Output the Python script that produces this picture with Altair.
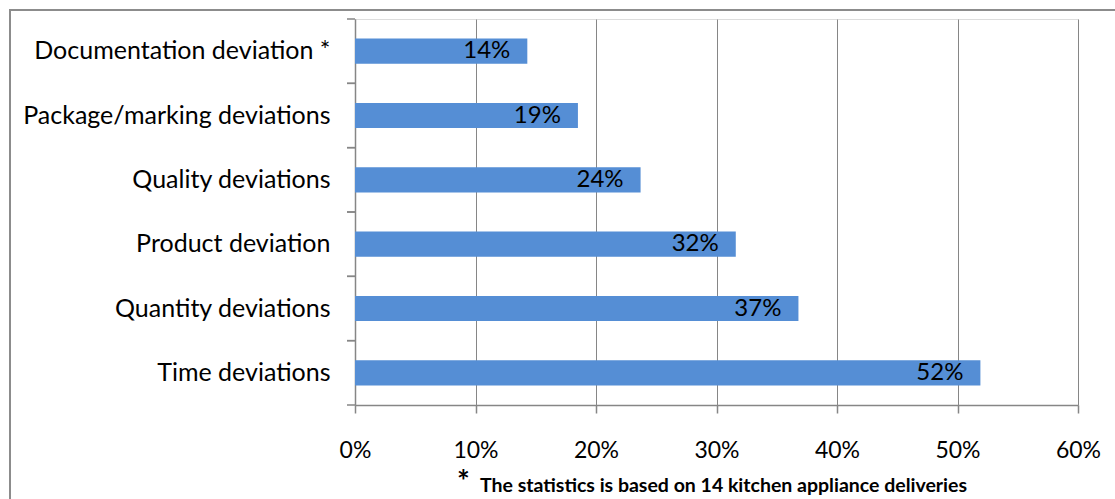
import altair as alt
import pandas as pd

categories = [
    "Documentation deviation *",
    "Package/marking deviations",
    "Quality deviations",
    "Product deviation",
    "Quantity deviations",
    "Time deviations",
]
values = [0.143, 0.185, 0.237, 0.316, 0.368, 0.519]
labels = ["14%", "19%", "24%", "32%", "37%", "52%"]
x_ticks = [0, 0.1, 0.2, 0.3, 0.4, 0.5, 0.6]
footnote_star = "*"
footnote_text = "The statistics is based on 14 kitchen appliance deliveries"

df = pd.DataFrame({"cat": categories, "value": values, "label": labels})

FONT = "Lato"
GRAY = "#868686"

xscale = alt.Scale(domain=[0, 0.6], nice=False)
yscale = alt.Scale(domain=categories, paddingInner=0.61, paddingOuter=0.305)

base = alt.Chart(df)

bars = base.mark_bar(color="#558ED5").encode(
    x=alt.X("value:Q", scale=xscale,
            axis=alt.Axis(values=x_ticks, format=".0%", title=None, grid=True,
                          gridColor=GRAY, gridWidth=1, gridOpacity=1,
                          domainColor=GRAY, domainWidth=1.5, tickColor=GRAY,
                          tickSize=8, tickWidth=1.5, labelFont=FONT, labelFontSize=23,
                          labelColor="black", labelPadding=26, labelFlush=False)),
    y=alt.Y("cat:N", scale=yscale, sort=categories,
            axis=alt.Axis(title=None, ticks=False, domainColor=GRAY, domainWidth=1.5,
                          labelFont=FONT, labelFontSize=25, labelColor="black",
                          labelPadding=25, labelLimit=400)),
)

texts = base.mark_text(align="right", baseline="middle", dx=-17, font=FONT,
                       fontSize=24, color="black").encode(
    x=alt.X("value:Q", scale=xscale),
    y=alt.Y("cat:N", scale=yscale, sort=categories),
    text="label:N",
)

tscale = alt.Scale(domain=categories, paddingInner=0, paddingOuter=0)
ticks_start = base.mark_rule(color=GRAY, strokeWidth=1.5).encode(
    y=alt.Y("cat:N", scale=tscale, sort=categories, bandPosition=0, axis=None),
    x=alt.value(-8), x2=alt.value(0),
)
ticks_end = base.mark_rule(color=GRAY, strokeWidth=1.5).encode(
    y=alt.Y("cat:N", scale=tscale, sort=categories, bandPosition=1, axis=None),
    x=alt.value(-8), x2=alt.value(0),
)

note_df = pd.DataFrame({"star": [footnote_star], "text": [footnote_text]})
star = alt.Chart(note_df).mark_text(align="left", baseline="alphabetic", font=FONT,
                                    fontSize=30, fontWeight="bold", color="black").encode(
    text="star:N", x=alt.value(102), y=alt.value(473))
note = alt.Chart(note_df).mark_text(align="left", baseline="alphabetic", font=FONT,
                                    fontSize=19.5, fontWeight="bold", color="black").encode(
    text="text:N", x=alt.value(125), y=alt.value(473))

border = alt.Chart(note_df).mark_rect(fill=None, stroke="#8c8c8c", strokeWidth=2).encode(
    x=alt.value(-345), x2=alt.value(800), y=alt.value(-9), y2=alt.value(520))

main = alt.layer(bars, texts)
rules = alt.layer(ticks_start, ticks_end)

chart = alt.layer(border, main, rules, star, note).resolve_scale(y="independent").properties(
    width=723, height=386,
    autosize=alt.AutoSizeParams(type="none"),
    padding={"left": 355, "top": 19, "right": 37, "bottom": 94},
).configure_view(stroke=None).configure(background="white")

chart.save("out.html", embed_options={"renderer": "svg", "actions": False})
